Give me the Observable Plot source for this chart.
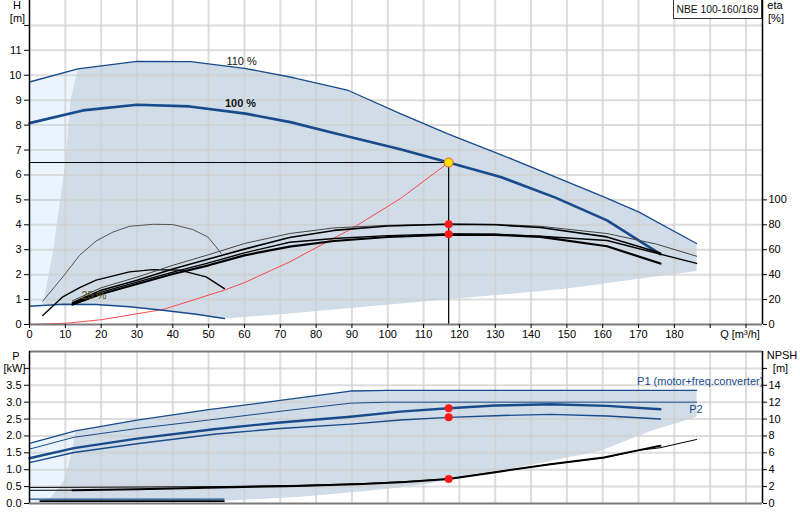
<!DOCTYPE html>
<html><head><meta charset="utf-8">
<script src="https://cdn.jsdelivr.net/npm/d3@7"></script>
<script src="https://cdn.jsdelivr.net/npm/@observablehq/plot@0.6"></script>
<style>
body{margin:0;background:#fff;font-family:"Liberation Sans",Arial,sans-serif;}
#wrap{position:relative;width:800px;height:520px;overflow:hidden;}
#wrap svg{display:block;}
#model{position:absolute;left:673px;top:-1px;width:89px;height:20px;border:1px solid #333;background:#fff;font-size:10.3px;line-height:19px;text-align:center;color:#111;box-sizing:border-box;white-space:nowrap;}
</style></head><body>
<div id="wrap"><div id="top"></div><div id="bot"></div><div id="model">NBE 100-160/169</div></div>
<script>
// ---------- data (Q in m³/h) ----------
const qMax = 204.6;
const qTicks = d3.range(0, 201, 10);
const hTicks = d3.range(0, 13, 1);
const etaTicks = [0, 20, 40, 60, 80, 100];
const pTicks = d3.range(0, 4.01, 0.5);
const npshTicks = [0, 2, 4, 6, 8, 10, 12, 14, 16];

// head curves H [m]
const head110 = [[0,9.73],[13.5,10.26],[30,10.56],[45,10.55],[60,10.28],[73.8,9.9],[89,9.39],[103.5,8.46],[116.6,7.66],[131.5,6.82],[160.3,5.12],[170,4.52],[186.2,3.25]];
const head100 = [[0,8.08],[14.9,8.59],[30,8.82],[44.7,8.75],[60.3,8.46],[72.8,8.12],[84.9,7.68],[103.5,7.03],[117,6.5],[131.5,5.92],[146.8,5.09],[161.2,4.18],[176.1,2.82]];
const head25 = [[0,0.73],[9.3,0.81],[18.6,0.8],[27.9,0.71],[37.2,0.57],[46.5,0.41],[54.4,0.24]];
const systemCurve = [[0,0],[10,0.05],[20,0.19],[30,0.43],[37.2,0.6],[45,0.95],[54.4,1.38],[60,1.68],[72.6,2.51],[90,3.85],[103.5,5.05],[117,6.5]];
// operating range outline (H)
const rangeLeftEdge = [[13.5,10.26],[12.4,9.6],[11.4,9.0],[10,6.52],[8.5,4.98],[6.6,2.98],[4.5,1.4],[3.7,0.8]];
const rangeLowerEdge = [[186.2,3.25],[186.2,2.15],[150,1.44],[103.5,0.84],[72.6,0.44],[54.4,0.24]];

// efficiency curves eta [%]
const etaA = [[12,19],[20,29.5],[30,38],[40,47.5],[50,56],[60,65],[72.6,73],[85,77.5],[100,79.6],[117,80.6],[130,80.4],[142.6,78.8],[161.2,73],[175,64.5],[186.2,54.8]];
const etaB = [[12,17.5],[20,27.5],[30,35.5],[40,44.5],[50,52.5],[60,60.5],[72.6,69.8],[85,75.5],[100,79],[117,80.4],[130,80],[142.6,77.8],[161.2,70.3],[176.1,57.4]];
const etaE = [[12,17],[20,26],[30,34],[40,42],[50,49.5],[60,57.5],[72.6,66],[85,69],[100,71.3],[117,72.6],[130,72.4],[142.6,70.8],[161.2,67.4],[186.2,49]];
const etaC = [[12,16],[20,24.5],[30,32.5],[40,40.5],[50,47.5],[60,55.5],[72.6,62.5],[85,67],[100,70.2],[117,72.2],[130,72],[142.6,70.3],[161.2,62.8],[176.1,48.9]];
const eta25pump = [[3.7,18.7],[9.3,38.2],[14,55.6],[18.6,67],[23.3,74.2],[27.9,78.8],[34.4,80.4],[40,80.2],[45.6,76.2],[49.8,70.2],[52.1,62.2],[53.5,57]];
const eta25total = [[3.7,7.2],[9.3,22.2],[14,29.6],[18.6,35.6],[27.9,42.2],[34.4,44],[41.9,43.6],[49.3,38.2],[54.4,28.8]];

// power curves P [kW]
const p1_110 = [[0,1.78],[12.8,2.15],[30,2.47],[50,2.78],[70,3.05],[89.6,3.33],[100,3.35],[186.2,3.35]];
const p2_110 = [[0,1.61],[12.4,1.96],[30,2.22],[50,2.47],[70,2.73],[89.6,2.97],[100,3.0],[186.2,3.0]];
const p1_100 = [[0,1.34],[12.4,1.64],[30,1.92],[51.4,2.2],[70,2.4],[89.6,2.57],[103.5,2.72],[117,2.82],[130,2.9],[145.4,2.94],[161.2,2.89],[176.1,2.79]];
const p2_100 = [[0,1.21],[12.4,1.51],[30,1.77],[51.4,2.05],[70,2.22],[89.6,2.35],[103.5,2.47],[117,2.55],[130,2.6],[145.4,2.64],[161.2,2.59],[176.1,2.5]];
const p1_25 = [[0,0.13],[54.3,0.13]];
const p2_25 = [[3,0.07],[54.3,0.07]];
const pLeftEdge = [[12.8,2.15],[12.3,1.8],[11.4,1.36],[9.6,0.67],[5.9,0.18],[1.2,0.03]];
const pLowerEdge = [[186.2,3.35],[186.2,2.57],[173.3,2.15],[159.4,1.56],[145,1.25],[131.5,0.97],[122.8,0.8],[111.6,0.6],[103.5,0.47],[93,0.36],[75.6,0.2],[54.3,0.08],[20,0.03],[1.2,0.03]];

// NPSH curves [m]
const npsh100 = [[12,1.58],[30,1.7],[53,1.89],[75,2.08],[93,2.3],[105,2.55],[117,2.89],[131.5,3.8],[145.4,4.65],[160.3,5.45],[168.8,6.2],[176.1,6.83]];
const npsh110 = [[0,1.9],[30,1.95],[53,2.0],[75,2.15],[93,2.35],[105,2.6],[117,2.92],[131.5,3.82],[145.4,4.65],[160.3,5.4],[170,6.3],[176,6.6],[186.2,7.58]];
const npshLow = [[0,1.56],[12,1.58]];

// duty point
const dutyQ = 117, dutyH = 6.5;
const dutyEta = [80.4, 72.4];
const dutyP = [2.82, 2.55];
const dutyNpsh = 2.89;

// ---------- helpers ----------
const obj = a => a.map(([q, v]) => ({q, v}));
const FONT = '"Liberation Sans",Arial,sans-serif';
const BLUE = "#174b8b", GREY = "#d0dce7", LIGHT = "#ebf4fc", GRID = "#cfcfcf";
const FS = 11;

const greyTopPoly = obj([
  ...head110.filter(d => d[0] >= 13.5),
  ...rangeLowerEdge,
  ...head25.filter(d => d[0] < 54.4 && d[0] > 3.7).reverse(),
  ...rangeLeftEdge.slice().reverse()
]);
const lightTopPoly = obj([
  [0, head25[0][1]], [0, head110[0][1]], ...rangeLeftEdge, [0, head25[0][1]]
]);
const greyBotPoly = obj([
  ...p1_110.filter(d => d[0] >= 12.8),
  ...pLowerEdge,
  ...pLeftEdge.slice().reverse()
]);
const lightBotPoly = obj([[0,0],[0,p1_110[0][1]],...pLeftEdge,[0,0]]);

const E = d => d.v / 20;   // eta on H axis (100 % = 5 m)
const N = d => d.v / 4;    // NPSH on P axis (14 m = 3.5 kW)
const lbl = (t, anchor, dx, dy, extra = {}) =>
  Plot.text([t], {frameAnchor: anchor, dx, dy, textAnchor: "middle", lineAnchor: "middle", fontSize: FS, fill: "#000", ...extra});

const topPlot = Plot.plot({
  width: 800, height: 345,
  marginLeft: 29, marginRight: 38, marginTop: 0, marginBottom: 21,
  x: {domain: [0, qMax], label: null},
  y: {domain: [0, 13], label: null},
  style: {fontFamily: FONT, fontSize: FS + "px", color: "#000", background: "#fff"},
  marks: [
    Plot.line(lightTopPoly, {x: "q", y: "v", fill: LIGHT, stroke: "none"}),
    Plot.line(greyTopPoly, {x: "q", y: "v", fill: GREY, stroke: "none"}),
    Plot.ruleX(qTicks.filter(d => d > 0), {stroke: GRID, strokeWidth: 2, strokeOpacity: 0.7}),
    Plot.ruleY(hTicks.filter(d => d > 0), {stroke: GRID, strokeWidth: 2, strokeOpacity: 0.7}),
    // system curve
    Plot.line(obj(systemCurve), {x: "q", y: "v", stroke: "#ff3030", strokeWidth: 1, strokeOpacity: 0.85}),
    // head curves
    Plot.line(obj(head25), {x: "q", y: "v", stroke: BLUE, strokeWidth: 1.4}),
    Plot.line(obj(head110), {x: "q", y: "v", stroke: BLUE, strokeWidth: 1.3}),
    Plot.line(obj(head100), {x: "q", y: "v", stroke: BLUE, strokeWidth: 2.6}),
    // efficiency curves
    Plot.line(obj(eta25pump), {x: "q", y: E, stroke: "#555", strokeWidth: 1}),
    Plot.line(obj(eta25total), {x: "q", y: E, stroke: "#000", strokeWidth: 1.4}),
    Plot.line(obj(etaA), {x: "q", y: E, stroke: "#444", strokeWidth: 1}),
    Plot.line(obj(etaB), {x: "q", y: E, stroke: "#000", strokeWidth: 1.6}),
    Plot.line(obj(etaE), {x: "q", y: E, stroke: "#000", strokeWidth: 1.4}),
    Plot.line(obj(etaC), {x: "q", y: E, stroke: "#000", strokeWidth: 2.2}),
    // duty point lines
    Plot.ruleY([dutyH], {x1: 0, x2: dutyQ, stroke: "#000", strokeWidth: 1.2}),
    Plot.ruleX([dutyQ], {y1: 0, y2: dutyH, stroke: "#000", strokeWidth: 1.2}),
    Plot.dot(dutyEta, {x: () => dutyQ, y: d => d / 20, r: 4, fill: "#ff1a1a", stroke: "none"}),
    Plot.dot([dutyH], {x: () => dutyQ, y: d => d, r: 4.5, fill: "#ffe100", stroke: "#f05a1e", strokeWidth: 1}),
    // curve labels
    Plot.text(["110 %"], {x: () => 59.2, y: () => 10.55, fill: "#111", fontSize: FS}),
    Plot.text(["100 %"], {x: () => 58.9, y: () => 8.88, fill: "#111", fontSize: FS, fontWeight: "bold"}),
    Plot.text(["25 %"], {x: () => 18, y: () => 1.15, fill: "#5c5220", fontSize: FS}),
    // axes
    Plot.ruleY([0], {stroke: "#7a7a7a", strokeWidth: 2}),
    Plot.ruleX([0], {stroke: "#000", strokeWidth: 1.5}),
    Plot.ruleX([qMax], {stroke: "#000", strokeWidth: 1.5}),
    Plot.axisX(qTicks, {tickSize: 4, tickPadding: 2, tickFormat: d => d <= 180 ? d : "", label: null}),
    Plot.axisY(hTicks, {anchor: "left", tickSize: 5, tickPadding: 3, tickFormat: d => d <= 11 ? d : "", label: null}),
    Plot.axisY(etaTicks.map(d => d / 20), {anchor: "right", tickSize: 4, tickPadding: 2, tickFormat: d => Math.round(d * 20), label: null}),
    lbl("H", "top-left", -12.5, 5),
    lbl("[m]", "top-left", -12, 17.5),
    lbl("eta", "top-right", 12.5, 5),
    lbl("[%]", "top-right", 13.5, 17.5),
    lbl("Q [m³/h]", "bottom-right", -22.5, 10)
  ]
});

const botPlot = Plot.plot({
  width: 800, height: 175,
  marginLeft: 29, marginRight: 38, marginTop: 6, marginBottom: 17,
  x: {domain: [0, qMax], label: null, axis: null},
  y: {domain: [0, 4.5], label: null},
  style: {fontFamily: FONT, fontSize: FS + "px", color: "#000", background: "#fff"},
  marks: [
    Plot.line(lightBotPoly, {x: "q", y: "v", fill: LIGHT, stroke: "none"}),
    Plot.line(greyBotPoly, {x: "q", y: "v", fill: GREY, stroke: "none"}),
    Plot.ruleX(qTicks.filter(d => d > 0), {stroke: GRID, strokeWidth: 2, strokeOpacity: 0.7}),
    Plot.ruleY(pTicks.filter(d => d > 0), {stroke: GRID, strokeWidth: 2, strokeOpacity: 0.7}),
    // NPSH
    Plot.line(obj(npshLow), {x: "q", y: N, stroke: "#000", strokeWidth: 1}),
    Plot.line(obj(npsh110), {x: "q", y: N, stroke: "#000", strokeWidth: 1}),
    Plot.line(obj(npsh100), {x: "q", y: N, stroke: "#000", strokeWidth: 2}),
    // power
    Plot.line(obj(p2_25), {x: "q", y: "v", stroke: "#000", strokeWidth: 1.6}),
    Plot.line(obj(p1_25), {x: "q", y: "v", stroke: BLUE, strokeWidth: 1.4}),
    Plot.line(obj(p1_110), {x: "q", y: "v", stroke: BLUE, strokeWidth: 1.3}),
    Plot.line(obj(p2_110), {x: "q", y: "v", stroke: BLUE, strokeWidth: 1}),
    Plot.line(obj(p1_100), {x: "q", y: "v", stroke: BLUE, strokeWidth: 2.4}),
    Plot.line(obj(p2_100), {x: "q", y: "v", stroke: BLUE, strokeWidth: 1.4}),
    Plot.dot(dutyP, {x: () => dutyQ, y: d => d, r: 4, fill: "#ff1a1a", stroke: "none"}),
    Plot.dot([dutyNpsh], {x: () => dutyQ, y: d => d / 4, r: 4, fill: "#ff1a1a", stroke: "none"}),
    Plot.text(["P1 (motor+freq.converter)"], {x: () => 169.6, y: () => 3.6, textAnchor: "start", fill: BLUE, fontSize: FS}),
    Plot.text(["P2"], {x: () => 186, y: () => 2.79, fill: BLUE, fontSize: FS}),
    // axes
    Plot.ruleY([0], {stroke: "#7a7a7a", strokeWidth: 2}),
    Plot.ruleY([4.5], {stroke: "#7a7a7a", strokeWidth: 2}),
    Plot.ruleX([0], {stroke: "#000", strokeWidth: 1.5}),
    Plot.ruleX([qMax], {stroke: "#000", strokeWidth: 1.5}),
    Plot.axisY(pTicks, {anchor: "left", tickSize: 5, tickPadding: 3, tickFormat: d => d <= 3.5 ? d.toFixed(1) : "", label: null}),
    Plot.axisY(npshTicks.map(d => d / 4), {anchor: "right", tickSize: 4, tickPadding: 2, tickFormat: d => d * 4 <= 14 ? Math.round(d * 4) : "", label: null}),
    lbl("P", "top-left", -13.5, 5),
    lbl("[kW]", "top-left", -15, 16.5),
    lbl("NPSH", "top-right", 19.5, 4),
    lbl("[m]", "top-right", 18, 16.5)
  ]
});

document.getElementById("top").append(topPlot);
document.getElementById("bot").append(botPlot);
</script>
</body></html>
